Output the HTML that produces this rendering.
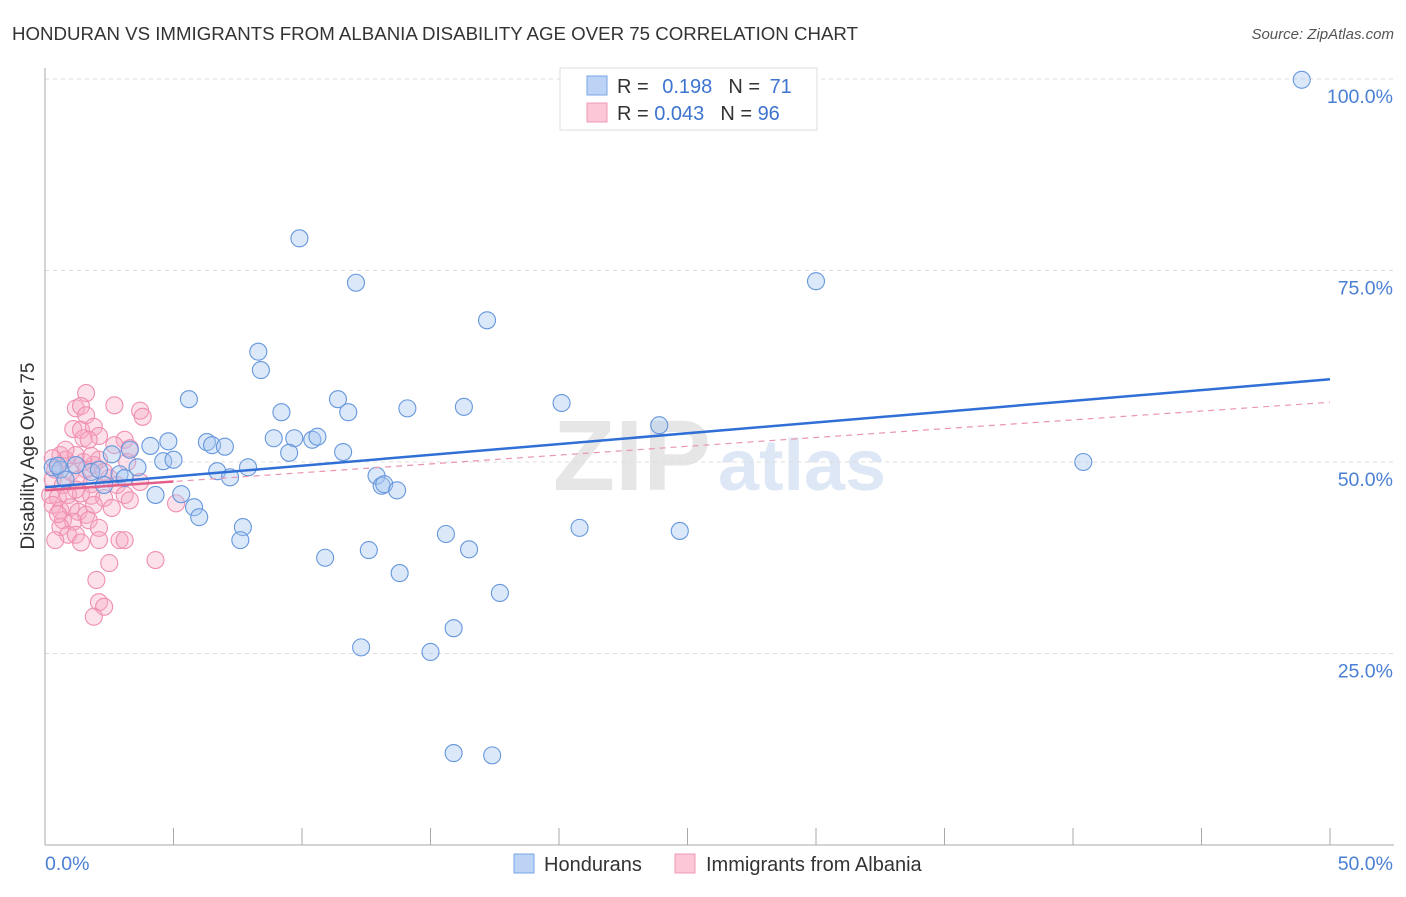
<!DOCTYPE html>
<html><head><meta charset="utf-8"><style>
body{margin:0;background:#fff;font-family:"Liberation Sans",sans-serif}
svg text{font-family:"Liberation Sans",sans-serif}
</style></head><body>
<svg id="chart" width="1406" height="892" xmlns="http://www.w3.org/2000/svg">
<text x="12" y="40" font-size="18" fill="#333" textLength="846" lengthAdjust="spacingAndGlyphs">HONDURAN VS IMMIGRANTS FROM ALBANIA DISABILITY AGE OVER 75 CORRELATION CHART</text>
<text x="1394" y="39" font-size="15" fill="#555" font-style="italic" text-anchor="end">Source: ZipAtlas.com</text>
<text x="553" y="490" font-size="100" fill="#e6e6e6" font-family="Liberation Serif" font-weight="bold" textLength="158" lengthAdjust="spacingAndGlyphs">ZIP</text>
<text x="718" y="490" font-size="72" fill="#dde7f5" font-weight="bold" textLength="168" lengthAdjust="spacingAndGlyphs">atlas</text>
<g id="grid"></g><g id="axes"></g><g id="marks"></g>
<text transform="translate(34,456) rotate(-90)" font-size="19" fill="#333" text-anchor="middle">Disability Age Over 75</text>
<g>
<rect x="560" y="68" width="257" height="62" fill="#fff" stroke="#ddd"/>
<rect x="587" y="76" width="20" height="19" fill="#bcd3f5" stroke="#7aa6e6"/>
<rect x="587" y="103" width="20" height="19" fill="#fcc8d8" stroke="#f098b4"/>
<text x="617" y="93" font-size="20" fill="#333">R = <tspan fill="#3d74d0" dx="8">0.198</tspan><tspan dx="16" fill="#333">N = </tspan><tspan fill="#3d74d0" dx="4">71</tspan></text>
<text x="617" y="120" font-size="20" fill="#333">R = <tspan fill="#3d74d0">0.043</tspan><tspan dx="16" fill="#333">N = </tspan><tspan fill="#3d74d0">96</tspan></text>
</g>
<g>
<rect x="514" y="854" width="20" height="19" fill="#bcd3f5" stroke="#7aa6e6"/>
<text x="544" y="871" font-size="20" fill="#333">Hondurans</text>
<rect x="675" y="854" width="20" height="19" fill="#fcc8d8" stroke="#f098b4"/>
<text x="706" y="871" font-size="20" fill="#333">Immigrants from Albania</text>
</g>
</svg>
<script>
const blueX=[48.9,9.9,12.1,30.0,17.2,8.3,8.4,5.6,11.4,9.2,11.8,14.1,16.3,20.1,23.9,4.1,4.8,6.3,6.5,7.0,8.9,9.7,10.4,10.6,9.5,11.6,2.6,3.3,4.6,5.0,3.6,6.7,7.9,7.2,12.9,13.1,13.2,13.7,40.4,0.3,0.6,1.2,1.8,2.1,2.9,3.1,4.3,5.3,5.8,6.0,7.7,7.6,20.8,24.7,15.6,10.9,12.6,16.5,13.8,17.7,15.9,12.3,15.0,15.9,17.4,0.5,0.8,2.3];
const blueY=[99.9,79.2,73.4,73.6,68.5,64.4,62.0,58.2,58.2,56.5,56.5,57.0,57.2,57.7,54.8,52.1,52.7,52.6,52.2,52.0,53.1,53.1,52.9,53.3,51.2,51.3,51.0,51.6,50.1,50.3,49.3,48.8,49.3,48.0,48.2,46.9,47.1,46.3,50.0,49.3,49.0,49.6,48.7,49.0,48.4,47.9,45.7,45.8,44.1,42.8,41.5,39.8,41.4,41.0,40.6,37.5,38.5,38.6,35.5,32.9,28.3,25.8,25.2,12.0,11.7,49.5,47.7,47.0];
const pinkX=[1.6,1.2,1.4,2.7,1.6,3.7,3.8,1.1,1.4,1.9,2.1,1.5,1.7,3.1,3.3,0.6,1.2,0.8,2.1,1.9,3.2,1.5,0.4,1.0,1.6,0.3,0.7,1.3,1.8,2.5,2.8,0.2,0.5,0.9,1.4,1.8,2.3,3.1,3.3,5.1,0.3,0.6,1.0,1.3,1.6,2.6,0.7,1.1,1.7,2.1,0.6,0.9,1.2,2.1,0.4,2.9,3.1,4.3,2.5,2.0,2.1,2.3,1.9,2.7,0.8,1.8,2.3,1.2,1.9,3.7,0.3,0.5,1.4];
const pinkY=[59.0,57.0,57.3,57.4,56.1,56.7,55.9,54.3,54.2,54.6,53.4,53.1,52.9,52.9,51.8,50.9,50.9,50.3,50.3,49.6,50.0,50.0,49.0,48.7,49.0,47.7,47.0,47.7,47.1,47.9,47.0,45.7,45.4,45.7,45.9,45.6,45.3,45.7,45.0,44.6,44.4,43.7,44.1,43.5,43.1,44.0,42.4,42.2,42.4,41.4,41.5,40.5,40.5,39.8,39.8,39.8,39.8,37.2,36.8,34.6,31.7,31.1,29.8,52.2,51.6,50.8,48.7,46.4,44.4,47.4,50.5,43.2,39.5];
const yTicks=[25,50,75,100];
const yTickLabels=["25.0%","50.0%","75.0%","100.0%"];
const blueTrend=[46.7,60.8];
const pinkTrend=[46.3,57.8];
const X=v=>45+v*25.7, Y=v=>845-v*7.66;
const NS="http://www.w3.org/2000/svg";
function mk(p,t,a){const e=document.createElementNS(NS,t);for(const k in a)e.setAttribute(k,a[k]);p.appendChild(e);return e;}
const grid=document.getElementById('grid'),axes=document.getElementById('axes'),marks=document.getElementById('marks');
yTicks.forEach((t,i)=>{
 const l=mk(grid,'line',{x1:45,x2:1394,y1:Y(t),y2:Y(t),stroke:'#ddd','stroke-dasharray':'4,4'});
 
 
 const tx=mk(axes,'text',{x:1393,y:Y(t)+24,'font-size':19.5,fill:'#4a7fd4','text-anchor':'end'});
 tx.textContent=yTickLabels[i];
 
 
});
mk(axes,'line',{x1:45,x2:45,y1:68,y2:845,stroke:'#aaa'});
mk(axes,'line',{x1:45,x2:1394,y1:845,y2:845,stroke:'#aaa'});
for(let i=0;i<=10;i++){const t=mk(axes,'line',{x1:X(i*5),x2:X(i*5),y1:828,y2:845,stroke:'#aaa'});
 
 }
const xl=mk(axes,'text',{x:45,y:870,'font-size':19.5,fill:'#4a7fd4'});xl.textContent='0.0%';


const xr=mk(axes,'text',{x:1393,y:870,'font-size':19.5,fill:'#4a7fd4','text-anchor':'end'});xr.textContent='50.0%';


pinkX.forEach((x,i)=>{const c=mk(marks,'circle',{cx:X(x),cy:Y(pinkY[i]),r:8.5,fill:'rgba(246,170,196,0.35)',stroke:'#f08fb0','stroke-width':1.1});
 
 });
blueX.forEach((x,i)=>{const c=mk(marks,'circle',{cx:X(x),cy:Y(blueY[i]),r:8.5,fill:'rgba(165,198,240,0.4)',stroke:'#6697dc','stroke-width':1.1});
 
 });
const pd=mk(marks,'line',{x1:X(0),y1:Y(pinkTrend[0]),x2:X(50),y2:Y(pinkTrend[1]),stroke:'#e995b0','stroke-width':1.2,'stroke-dasharray':'6,5'});


const ps=mk(marks,'line',{x1:X(0),y1:Y(pinkTrend[0]),x2:X(5),y2:Y(pinkTrend[0]+(pinkTrend[1]-pinkTrend[0])*0.1),stroke:'#e4608a','stroke-width':2.5});


const bt=mk(marks,'line',{x1:X(0),y1:Y(blueTrend[0]),x2:X(50),y2:Y(blueTrend[1]),stroke:'#2f6fd6','stroke-width':2.5});


</script>
</body></html>
